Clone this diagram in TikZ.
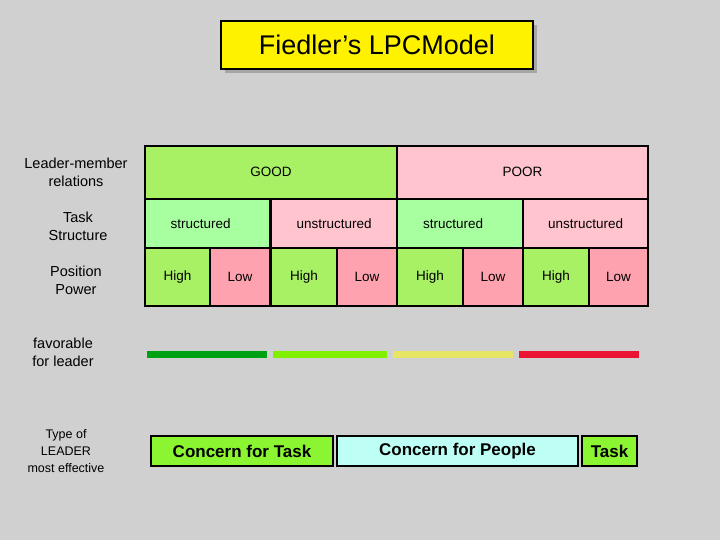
\documentclass[tikz,border=0pt]{standalone}
\usepackage{fontspec}
\setmainfont{Liberation Sans}
\begin{document}
\begin{tikzpicture}[x=1pt,y=-1pt,
 cell/.style={draw=black,line width=2.2pt,anchor=north west,inner sep=0pt,font=\fontsize{13.5}{16}\selectfont},
 lbl/.style={align=center,font=\fontsize{14.5}{18}\selectfont},
 bar/.style={line width=7pt}]
\definecolor{bg}{HTML}{D0D0D0}
\definecolor{gA}{HTML}{A8F064}
\definecolor{gB}{HTML}{A8FFA0}
\definecolor{pA}{HTML}{FFC4CE}
\definecolor{pB}{HTML}{FFA2B0}
\fill[bg] (0,0) rectangle (720,540);
\useasboundingbox (0,0) rectangle (720,540);
% title
\fill[gray!70] (225,25) rectangle (537,73);
\node[draw=black,line width=2pt,fill=yellow,minimum width=312pt,minimum height=48pt,anchor=north west,inner sep=0pt,font=\fontsize{27}{30}\selectfont] (title) at (220,20) {Fiedler’s LPCModel};
% row labels
\node[lbl] (l1) at (76,172) {Leader-member\\relations};
\node[lbl] (l2) at (78,226) {Task\\Structure};
\node[lbl] (l3) at (76,280) {Position\\Power};
\node[lbl] (l4) at (63,352) {favorable\\for leader};
\node[lbl,font=\fontsize{12.5}{17}\selectfont] (l5) at (66,451) {Type of\\LEADER\\most effective};
% row 1
\node[cell,fill=gA,minimum width=252pt,minimum height=53pt] (good) at (144,145) {\raisebox{2pt}{GOOD}};
\node[cell,fill=pA,minimum width=251pt,minimum height=53pt] (poor) at (396,145) {\raisebox{2pt}{POOR}};
% row 2
\node[cell,fill=gB,minimum width=125pt,minimum height=49pt] (s1) at (144,198) {structured\hspace*{14pt}};
\node[cell,fill=pA,minimum width=126pt,minimum height=49pt] (u1) at (270,198) {unstructured};
\node[cell,fill=gB,minimum width=126pt,minimum height=49pt] (s2) at (396,198) {structured\hspace*{14pt}};
\node[cell,fill=pA,minimum width=125pt,minimum height=49pt] (u2) at (522,198) {unstructured};
% row 3
\foreach \x/\w/\c/\t [count=\i] in {144/65/gA/High,209/60/pB/Low,270/66/gA/High,336/60/pB/Low,396/66/gA/High,462/60/pB/Low,522/66/gA/High,588/59/pB/Low}
  \node[cell,fill=\c,minimum width=\w pt,minimum height=58pt] (p\i) at (\x,247) {\t};
% bars
\draw[bar,color={rgb,255:red,0;green,160;blue,20}] (147,354) -- (267,354);
\draw[bar,color={rgb,255:red,128;green,240;blue,0}] (273,354) -- (387,354);
\draw[bar,color={rgb,255:red,230;green,230;blue,100}] (393,354) -- (513,354);
\draw[bar,color={rgb,255:red,235;green,20;blue,50}] (519,354) -- (639,354);
% bottom boxes
\tikzset{bx/.style={draw=black,line width=2pt,anchor=north west,inner sep=0pt,minimum height=30pt,font=\bfseries\fontsize{17}{20}\selectfont}}
\node[bx,fill={rgb,255:red,140;green,245;blue,50},minimum width=182pt] (ct) at (150,435) {Concern for Task};
\node[bx,fill={rgb,255:red,190;green,255;blue,245},minimum width=241pt] (cp) at (336,435) {Concern for People};
\node[bx,fill={rgb,255:red,140;green,245;blue,50},minimum width=55pt] (tk) at (581,435) {Task};
\end{tikzpicture}
\end{document}
